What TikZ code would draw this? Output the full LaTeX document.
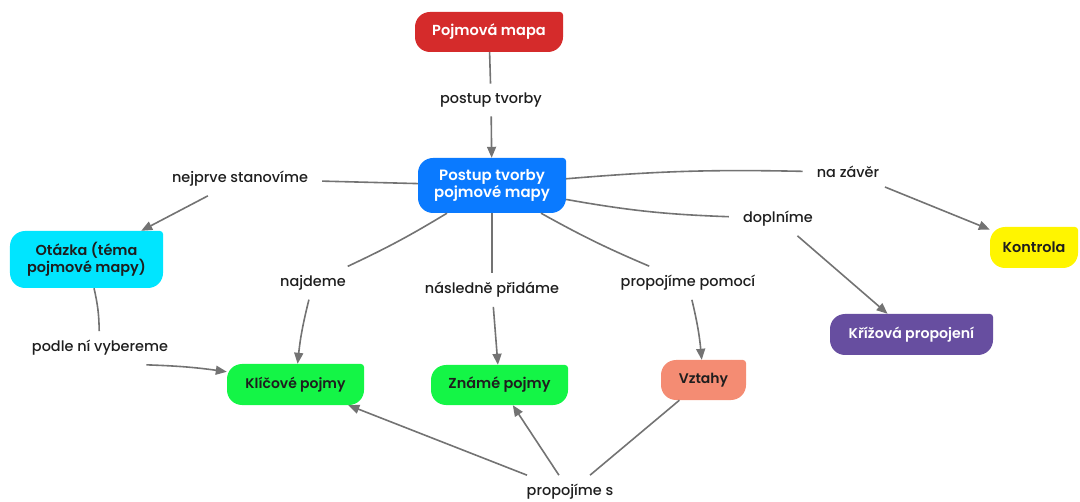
\documentclass[tikz,border=0pt]{standalone}
\usepackage{fontspec}
\setmainfont{Poppins}
\newfontfamily\semib{Poppins SemiBold}
\newfontfamily\medf{Poppins Medium}
\usetikzlibrary{arrows.meta}
\definecolor{cred}{RGB}{213,43,43}
\definecolor{cblue}{RGB}{10,122,255}
\definecolor{ccyan}{RGB}{0,229,255}
\definecolor{cyellow}{RGB}{255,245,0}
\definecolor{cpurple}{RGB}{103,78,160}
\definecolor{cgreen}{RGB}{20,245,70}
\definecolor{csalmon}{RGB}{244,140,115}
\definecolor{cline}{RGB}{115,115,115}
\definecolor{ctext}{RGB}{30,30,30}
\tikzset{
  box/.style={inner sep=0pt, align=center, font=\semib\fontsize{14.5}{17}\selectfont,
    path picture={
      \fill[#1, rounded corners=15bp] (path picture bounding box.south west) rectangle (path picture bounding box.north east);
      \fill[#1, rounded corners=3bp] ([xshift=-18bp,yshift=-18bp]path picture bounding box.north east) rectangle (path picture bounding box.north east);
    }},
  lab/.style={font=\medf\fontsize{14.5}{17}\selectfont, text=ctext, inner xsep=14bp, inner ysep=9bp},
  link/.style={draw=cline, line width=1.6bp},
  arr/.style={link, -{Triangle[length=11bp,width=9bp]}},
}
\begin{document}
\begin{tikzpicture}[x=1bp,y=-1bp]
\useasboundingbox (0,0) rectangle (1080,502);
% concepts
\node[box=cred, text=white, minimum width=148bp, minimum height=40bp, font=\semib\fontsize{14.6}{17}\selectfont] (pm) at (489,32) {Pojmová mapa};
\node[box=cblue, text=white, minimum width=148bp, minimum height=55bp, font=\semib\fontsize{15}{17}\selectfont] (pt) at (492,185.5) {Postup tvorby\\pojmové mapy};
\node[box=ccyan, text=ctext, minimum width=153bp, minimum height=57bp] (ot) at (86.5,259.5) {Otázka (téma\\pojmové mapy)};
\node[box=cyellow, text=ctext, minimum width=88bp, minimum height=41bp] (ko) at (1034,247.5) {Kontrola};
\node[box=cpurple, text=white, minimum width=163bp, minimum height=41bp, font=\semib\fontsize{14.2}{17}\selectfont] (kr) at (911.5,334.5) {Křížová propojení};
\node[box=cgreen, text=ctext, minimum width=137bp, minimum height=41bp, font=\semib\fontsize{14}{17}\selectfont] (kp) at (295.5,384.5) {Klíčové pojmy};
\node[box=cgreen, text=ctext, minimum width=137bp, minimum height=40bp] (zp) at (499.5,385) {Známé pojmy};
\node[box=csalmon, text=ctext, minimum width=85bp, minimum height=40bp, font=\semib\fontsize{14}{17}\selectfont] (vz) at (703.5,380) {Vztahy};
% linking phrases
\node[lab] (l1) at (491,100) {postup tvorby};
\node[lab] (l2) at (240,179) {nejprve stanovíme};
\node[lab] (l3) at (313,283) {najdeme};
\node[lab] (l4) at (492,290) {následně přidáme};
\node[lab] (l5) at (688,283) {propojíme pomocí};
\node[lab] (l6) at (848,172) {na závěr};
\node[lab] (l7) at (778,219) {doplníme};
\node[lab] (l8) at (100,348) {podle ní vybereme};
\node[lab] (l9) at (570,492) {propojíme s};
% connectors
\draw[link] (pm) -- (l1);
\draw[arr] (l1) -- (pt);
\draw[link] (pt) -- (l2);
\draw[arr] (l2) -- (ot);
\draw[link] (pt) to[bend left=3] (l3);
\draw[arr] (l3) to[bend right=4] (kp);
\draw[link] (pt) -- (l4);
\draw[arr] (l4) -- (zp);
\draw[link] (pt) to[bend right=3] (l5);
\draw[arr] (l5) to[bend left=4] (vz);
\draw[link] (pt) to[bend left=3] (l6);
\draw[arr] (l6) -- (ko);
\draw[link] (pt) to[bend right=4] (l7);
\draw[arr] (l7) -- (kr);
\draw[link] (ot) to[bend left=6] (l8);
\draw[arr] (l8.-20) to[bend left=3] (kp);
\draw[link] (vz) -- (l9);
\draw[arr] (l9) -- (kp);
\draw[arr] (l9) -- (zp);
\end{tikzpicture}
\end{document}
